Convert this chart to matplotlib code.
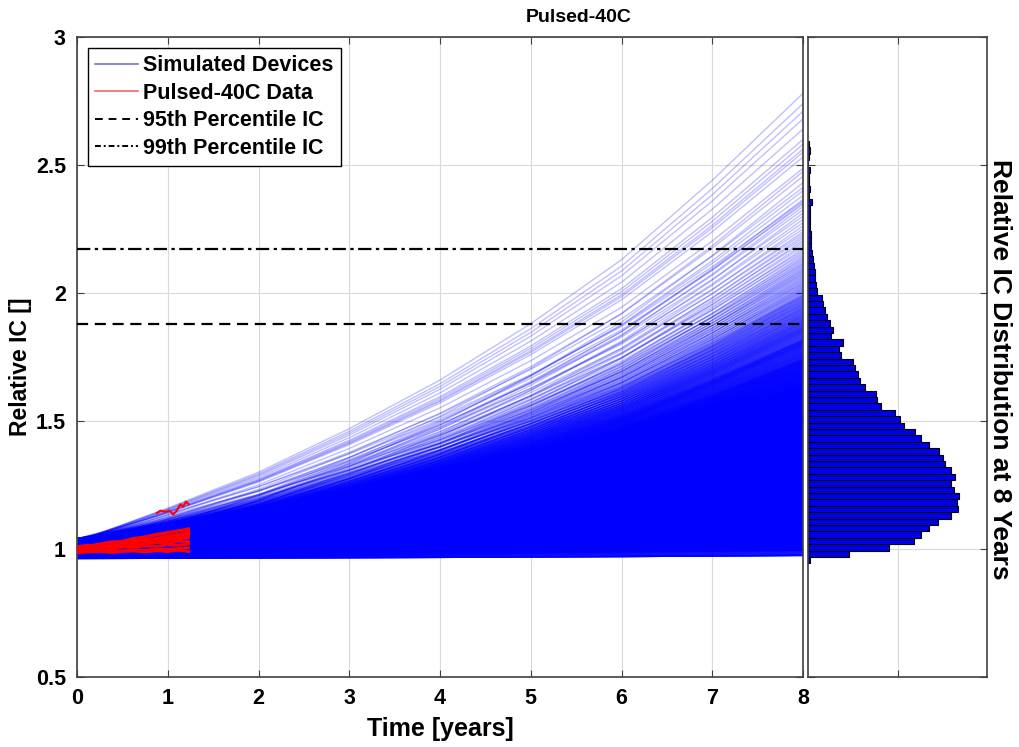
import numpy as np
import matplotlib
matplotlib.use("Agg")
import matplotlib.pyplot as plt
from matplotlib.collections import LineCollection
from matplotlib.lines import Line2D

plt.rcParams['font.family'] = ['Liberation Sans', 'DejaVu Sans']
plt.rcParams['font.weight'] = 'bold'

# ---------------- data ----------------
# time grid (years) for the simulated devices
sim_t = [0, 1, 2, 3, 4, 5, 6, 7, 8]
# upper envelope of the simulated device fan
sim_top = [1.03, 1.16, 1.30, 1.47, 1.66, 1.88, 2.13, 2.44, 2.78]
# spread of device values at t = 0
start_levels = [0.965, 1.01, 0.98, 1.025, 0.995, 1.04, 0.975, 1.015, 0.99, 1.03]

# histogram of relative IC at 8 years (bin centres and bar lengths)
hist_first_center = 0.956
hist_bin_width = 0.025
hist_counts = [2, 41, 81, 106, 113, 121, 130, 143, 150, 149, 151, 146, 143,
               147, 143, 137, 135, 131, 121, 113, 107, 96, 92, 87, 73, 69,
               68, 57, 52, 50, 47, 45, 33, 31, 35, 23, 25, 22, 19, 17, 15,
               14, 9, 8, 7, 7, 6, 5, 4, 3, 3, 3, 2, 2, 2, 2, 4, 1, 2, 1, 1,
               2, 0, 1, 2, 1]
# a few extreme devices above the histogram range
extra_end_values = [2.60, 2.64, 2.68, 2.71, 2.74, 2.78]

# percentile levels
p95 = 1.879
p99 = 2.171

# measured data (Pulsed-40C)
red_t = [0.02, 0.12, 0.25, 0.38, 0.5, 0.62, 0.75, 0.88, 1.0, 1.12, 1.23]
red_series = [
    [1.000, 1.005, 1.015, 1.022, 1.030, 1.038, 1.045, 1.055, 1.062, 1.070, 1.080],
    [0.995, 1.000, 1.004, 1.008, 1.012, 1.018, 1.022, 1.028, 1.033, 1.038, 1.045],
    [0.990, 0.992, 0.990, 0.995, 0.993, 0.997, 0.995, 1.000, 0.998, 1.002, 1.005],
    [1.005, 1.012, 1.018, 1.016, 1.025, 1.032, 1.030, 1.040, 1.048, 1.052, 1.060],
    [1.000, 1.003, 1.000, 1.008, 1.015, 1.012, 1.020, 1.025, 1.022, 1.030, 1.028],
    [0.985, 0.988, 0.990, 0.986, 0.990, 0.992, 0.988, 0.993, 0.990, 0.995, 0.990],
    [1.008, 1.010, 1.020, 1.028, 1.030, 1.042, 1.048, 1.058, 1.065, 1.072, 1.075],
    [1.010, 1.015, 1.010, 1.020, 1.018, 1.025, 1.035, 1.030, 1.040, 1.045, 1.050],
    [0.995, 0.998, 1.005, 1.002, 1.008, 1.006, 1.012, 1.010, 1.016, 1.014, 1.020],
    [1.003, 1.008, 1.012, 1.020, 1.024, 1.028, 1.036, 1.042, 1.050, 1.058, 1.066],
]
red_top_t = [0.88, 0.92, 0.97, 1.02, 1.06, 1.10, 1.14, 1.17, 1.20, 1.23]
red_top_v = [1.140, 1.150, 1.145, 1.150, 1.135, 1.150, 1.175, 1.165, 1.185, 1.175]

# ---------------- build simulated device curves ----------------
sim_t_arr = np.array(sim_t, dtype=float)
top = np.array(sim_top)
profile = (top - top[0]) / (top[-1] - top[0])

end_values = []
for i, c in enumerate(hist_counts):
    center = hist_first_center + i * hist_bin_width
    for k in range(c):
        end_values.append(center - hist_bin_width / 2 + (k + 0.5) * hist_bin_width / c)
end_values += extra_end_values

segs = []
for j, e in enumerate(end_values):
    s = start_levels[j % len(start_levels)]
    if e > 2.5:
        s = 1.03
    e = max(e, 0.975)
    s = min(s, e - 0.012)
    v = s + (e - s) * profile
    segs.append(np.column_stack([sim_t_arr, v]))

# ---------------- figure ----------------
fig = plt.figure(figsize=(10.19, 7.47), dpi=100)
ax = fig.add_axes([77 / 1019, 70 / 747, 726 / 1019, 640 / 747])
axh = fig.add_axes([808 / 1019, 70 / 747, 179 / 1019, 640 / 747])

lc = LineCollection(segs, colors=[(0, 0, 1, 0.25)], linewidths=1.0, zorder=2)
ax.add_collection(lc)

for ser in red_series:
    ax.plot(red_t, ser, color='red', lw=2.0, zorder=3)
ax.plot(red_top_t, red_top_v, color='red', lw=1.5, zorder=3)

ax.axhline(p95, color='black', ls=(0, (5, 3)), lw=1.6, zorder=4)
ax.axhline(p99, color='black', ls=(0, (6, 2, 1.5, 2)), lw=1.6, zorder=4)

ax.set_xlim(0, 8)
ax.set_ylim(0.5, 3)
ax.set_xticks(range(0, 9))
ax.set_yticks([0.5, 1, 1.5, 2, 2.5, 3])
ax.set_yticklabels(['0.5', '1', '1.5', '2', '2.5', '3'])
ax.grid(True, color='#d9d9d9', lw=0.8, zorder=0)
ax.set_axisbelow(True)
ax.tick_params(direction='in', length=5, top=True, right=True,
               labelsize=15.5, color='#404040', pad=8)
for t in ax.get_xticklabels() + ax.get_yticklabels():
    t.set_fontweight('bold')
for sp in ax.spines.values():
    sp.set_color('#404040')
    sp.set_linewidth(1.2)
ax.set_xlabel('Time [years]', fontsize=18, fontweight='bold', labelpad=6)
ax.set_ylabel('Relative IC []', fontsize=16.5, fontweight='bold', va='center')
ax.yaxis.set_label_coords(-0.078, 0.484)
fig.text(579 / 1019, 1 - 17 / 747, 'Pulsed-40C', fontsize=14,
         fontweight='bold', ha='center', va='center')

handles = [
    Line2D([], [], color=(0.3, 0.3, 0.85, 0.8), lw=1.2),
    Line2D([], [], color=(0.95, 0.4, 0.4), lw=1.2),
    Line2D([], [], color='black', ls=(0, (4, 3)), lw=1.4),
    Line2D([], [], color='black', ls=(0, (3, 1.5, 1, 1.5)), lw=1.4),
]
labels = ['Simulated Devices', 'Pulsed-40C Data', '95th Percentile IC', '99th Percentile IC']
leg = ax.legend(handles, labels, loc='upper left', fontsize=15.5, frameon=True,
                fancybox=False, edgecolor='black', framealpha=1,
                handlelength=2.0, handletextpad=0.2, borderaxespad=0.5,
                labelspacing=0.3, borderpad=0.35)
leg.get_frame().set_linewidth(1.0)
for txt in leg.get_texts():
    txt.set_fontweight('bold')

# histogram panel
centers = [hist_first_center + i * hist_bin_width for i in range(len(hist_counts))]
axh.barh(centers, hist_counts, height=hist_bin_width, left=0,
         color='#0000e6', edgecolor='black', linewidth=0.8, zorder=2)
axh.set_xlim(0, 179)
axh.set_ylim(0.5, 3)
axh.set_xticks([90])
axh.set_xticklabels([])
axh.set_yticks([0.5, 1, 1.5, 2, 2.5, 3])
axh.set_yticklabels([])
axh.grid(True, color='#d9d9d9', lw=0.8, zorder=0)
axh.set_axisbelow(True)
axh.tick_params(direction='in', length=5, top=True, right=True, left=True,
                color='#404040')
for sp in axh.spines.values():
    sp.set_color('#404040')
    sp.set_linewidth(1.2)
axh.yaxis.set_label_position('right')
axh.set_ylabel('Relative IC Distribution at 8 Years', rotation=270,
               fontsize=19, fontweight='bold', va='center')
axh.yaxis.set_label_coords(1.07, 0.48)

fig.savefig('out.png', dpi=100)
